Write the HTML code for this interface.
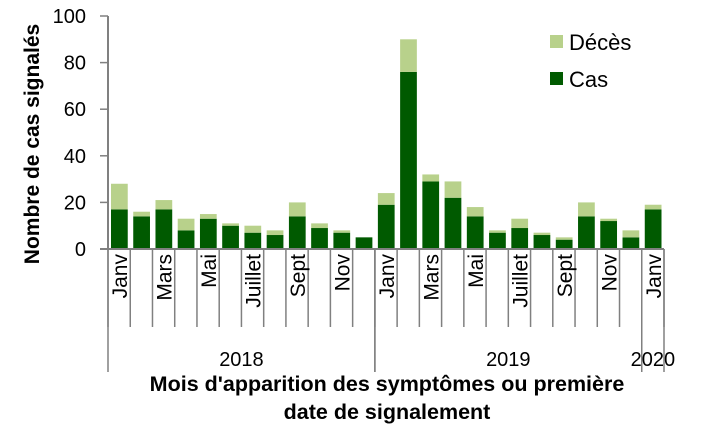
<!DOCTYPE html>
<html><head><meta charset="utf-8"><style>
body{margin:0;background:#fff;}
svg{display:block;font-family:"Liberation Sans",sans-serif;}
</style></head><body>
<svg id="c" width="713" height="430">
<g id="g"></g>
</svg>
<script>
const months=["Janv","Févr","Mars","Avr","Mai","Juin","Juillet","Août","Sept","Oct","Nov","Déc","Janv","Févr","Mars","Avr","Mai","Juin","Juillet","Août","Sept","Oct","Nov","Déc","Janv"];
const cas=[17,14,17,8,13,10,7,6,14,9,7,5,19,76,29,22,14,7,9,6,4,14,12,5,17];
const deces=[11,2,4,5,2,1,3,2,6,2,1,0,5,14,3,7,4,1,4,1,1,6,1,3,2];
const yTicks=[0,20,40,60,80,100];
const years=[{label:"2018",start:0,end:12},{label:"2019",start:12,end:24},{label:"2020",start:24,end:25}];
const x0=108,x1=664,y0=249,yTop=16;
const n=months.length,bw=(x1-x0)/n;
const y=v=>y0-(v/100)*(y0-yTop);
const X=i=>x0+i*bw;
const NS="http://www.w3.org/2000/svg";
const g=document.getElementById('g');
function mk(t,a,txt){const e=document.createElementNS(NS,t);for(const k in a)e.setAttribute(k,a[k]);if(txt!==undefined)e.textContent=txt;g.appendChild(e);return e;}
let e=mk('line',{x1:x0,y1:yTop,x2:x0,y2:y0,stroke:'#808080','stroke-width':2});


yTicks.forEach(v=>{
 let t=mk('line',{x1:x0-8,y1:y(v),x2:x0,y2:y(v),stroke:'#808080','stroke-width':1.5});
 
 
 let l=mk('text',{x:86,y:y(v)+7,'text-anchor':'end','font-size':20,fill:'#000'},v);
 
 
});
cas.forEach((c,i)=>{
 const bx=X(i)+3,w=bw-5.5;
 let r=mk('rect',{x:bx,y:y(c),width:w,height:y0-y(c),fill:'#005a00'});
 
 
 const d=deces[i];
 if(d>0){let r2=mk('rect',{x:bx,y:y(c+d),width:w,height:y(c)-y(c+d),fill:'#b8d18b'});
 
 }
});
e=mk('line',{x1:x0-8,y1:y0,x2:x1,y2:y0,stroke:'#808080','stroke-width':2});


for(let i=0;i<=n;i++){
 let t=mk('line',{x1:X(i),y1:y0,x2:X(i),y2:327,stroke:'#808080','stroke-width':1.5});
 
 
}
months.forEach((m,i)=>{
 if(i%2)return;
 const cx=X(i)+bw/2+8;
 let l=mk('text',{x:cx,y:254,'text-anchor':'end','font-size':21,transform:`rotate(-90 ${cx} 254)`},m);
 
 
});
years.forEach(yr=>{
 [yr.start,yr.end].forEach(i=>{let t=mk('line',{x1:X(i),y1:y0,x2:X(i),y2:372,stroke:'#808080','stroke-width':1.5});
 
 });
 let l=mk('text',{x:(X(yr.start)+X(yr.end))/2,y:366,'text-anchor':'middle','font-size':20},yr.label);
 
 
});
e=mk('text',{x:387,y:391,'text-anchor':'middle','font-size':21.5,'font-weight':'bold'},"Mois d'apparition des symptômes ou première");


e=mk('text',{x:387,y:419,'text-anchor':'middle','font-size':21.5,'font-weight':'bold'},"date de signalement");


e=mk('text',{x:39,y:144,'text-anchor':'middle','font-size':21,'font-weight':'bold',transform:'rotate(-90 39 144)'},"Nombre de cas signalés");


e=mk('rect',{x:550,y:35,width:13,height:13,fill:'#b8d18b'});


e=mk('text',{x:569,y:50,'font-size':22},"Décès");


e=mk('rect',{x:550,y:72,width:13,height:13,fill:'#005a00'});


e=mk('text',{x:569,y:87,'font-size':22},"Cas");


</script>
</body></html>
